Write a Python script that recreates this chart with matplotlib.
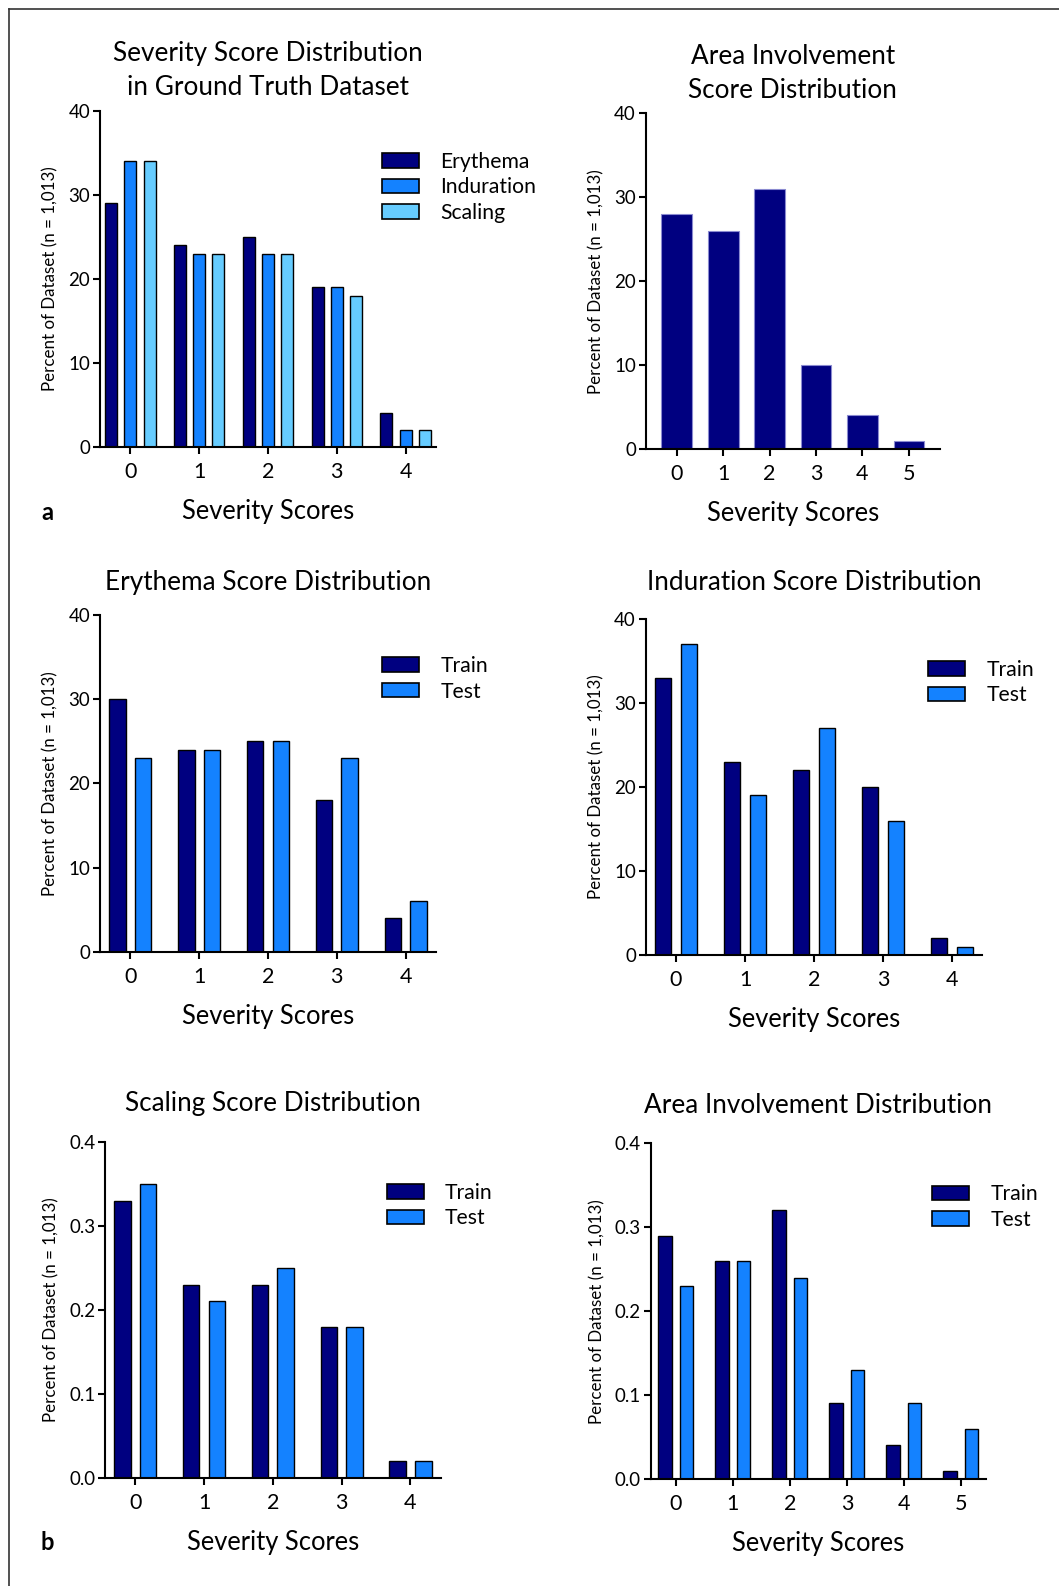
import matplotlib.pyplot as plt
import numpy as np
from matplotlib.lines import Line2D
from matplotlib.patches import Patch

plt.rcParams['font.family'] = ['Lato', 'DejaVu Sans']

NAVY = '#000080'
BLUE = '#1482ff'
SKY = '#66ccff'

# severity scores in the ground truth set (percent)
scores5 = [0, 1, 2, 3, 4]
scores6 = [0, 1, 2, 3, 4, 5]
erythema = [29, 24, 25, 19, 4]
induration = [34, 23, 23, 19, 2]
scaling = [34, 23, 23, 18, 2]
area = [28, 26, 31, 10, 4, 1]

# train / test splits
ery_train = [30, 24, 25, 18, 4]
ery_test = [23, 24, 25, 23, 6]
ind_train = [33, 23, 22, 20, 2]
ind_test = [37, 19, 27, 16, 1]
sca_train = [0.33, 0.23, 0.23, 0.18, 0.02]
sca_test = [0.35, 0.21, 0.25, 0.18, 0.02]
area_train = [0.29, 0.26, 0.32, 0.09, 0.04, 0.01]
area_test = [0.23, 0.26, 0.24, 0.13, 0.09, 0.06]

W, H = 1059, 1586
fig = plt.figure(figsize=(W / 100, H / 100), dpi=100)


def px_axes(x0, y0, x1, y1):
    return fig.add_axes([x0 / W, 1 - y1 / H, (x1 - x0) / W, (y1 - y0) / H])


def style(ax, xs, ymax, yfmt, title, pad_x=0.44, title_pad=None):
    for s in ['top', 'right']:
        ax.spines[s].set_visible(False)
    for s in ['left', 'bottom']:
        ax.spines[s].set_linewidth(1.5)
    ax.set_xlim(-pad_x, xs[-1] + pad_x)
    ax.set_ylim(0, ymax)
    ax.set_xticks(xs)
    ax.set_yticks(np.linspace(0, ymax, 5))
    ax.set_yticklabels([yfmt.format(v) for v in np.linspace(0, ymax, 5)])
    ax.tick_params(axis='x', length=5, width=1.5, labelsize=15.5, pad=6)
    ax.tick_params(axis='y', length=5, width=1.5, labelsize=13.5, pad=2)
    ax.set_ylabel('Percent of Dataset (n = 1,013)', fontsize=12.2, labelpad=7)
    ax.set_xlabel('Severity Scores', fontsize=18.4, labelpad=12)
    if title_pad is None:
        title_pad = 11 if '\n' in title else 20
    ax.set_title(title, fontsize=18.8, pad=title_pad, linespacing=1.45)


def legend(ax, labels, colors):
    handles = [Patch(facecolor=c, edgecolor='black', linewidth=1.2) for c in colors]
    ax.legend(handles, labels, loc='upper left', bbox_to_anchor=(0.84, 0.878),
              frameon=False, fontsize=15.2, handlelength=1.75, handleheight=0.68,
              handletextpad=1.0, labelspacing=0.26, borderpad=0, borderaxespad=0)


# a: ground truth severity
ax = px_axes(100, 110.7, 436, 446.7)
x = np.arange(len(scores5))
for i, (vals, c) in enumerate([(erythema, NAVY), (induration, BLUE), (scaling, SKY)]):
    ax.bar(x + (i - 1) * 0.28, vals, width=0.175, color=c, edgecolor='black', linewidth=1.0)
style(ax, scores5, 40, '{:.0f}', 'Severity Score Distribution\nin Ground Truth Dataset')
legend(ax, ['Erythema', 'Induration', 'Scaling'], [NAVY, BLUE, SKY])

ax = px_axes(645.7, 113.3, 940, 449)
ax.bar(scores6, area, width=0.66, color=NAVY, edgecolor='#8a8ad0', linewidth=0.8)
style(ax, scores6, 40, '{:.0f}', 'Area Involvement\nScore Distribution', pad_x=0.67)

# b: train / test splits
panels = [
    ((100, 615, 436, 951.7), scores5, ery_train, ery_test, 40, '{:.0f}', 'Erythema Score Distribution', 18),
    ((645.7, 619, 982.3, 955), scores5, ind_train, ind_test, 40, '{:.0f}', 'Induration Score Distribution', 21),
    ((105, 1141.7, 440.7, 1477.7), scores5, sca_train, sca_test, 0.4, '{:.1f}', 'Scaling Score Distribution', 22),
    ((650.7, 1143.3, 986, 1479), scores6, area_train, area_test, 0.4, '{:.1f}', 'Area Involvement Distribution', 22),
]
for box, xs, tr, te, ymax, fmt, title, tpad in panels:
    ax = px_axes(*box)
    x = np.arange(len(xs))
    ax.bar(x - 0.187, tr, width=0.24, color=NAVY, edgecolor='black', linewidth=1.0)
    ax.bar(x + 0.187, te, width=0.24, color=BLUE, edgecolor='black', linewidth=1.0)
    style(ax, xs, ymax, fmt, title, title_pad=tpad)
    legend(ax, ['Train', 'Test'], [NAVY, BLUE])

fig.text(47.5 / W, 1 - 513 / H, 'a', fontsize=17, fontweight='bold', ha='center', va='center')
fig.text(47.5 / W, 1 - 1542.5 / H, 'b', fontsize=17, fontweight='bold', ha='center', va='center')

# frame on top and left
fig.add_artist(Line2D([9 / W, 9 / W], [0, 1 - 9 / H], color='#333333', linewidth=1.2))
fig.add_artist(Line2D([9 / W, 1], [1 - 9 / H, 1 - 9 / H], color='#333333', linewidth=1.2))

fig.savefig('out.png', dpi=100)
